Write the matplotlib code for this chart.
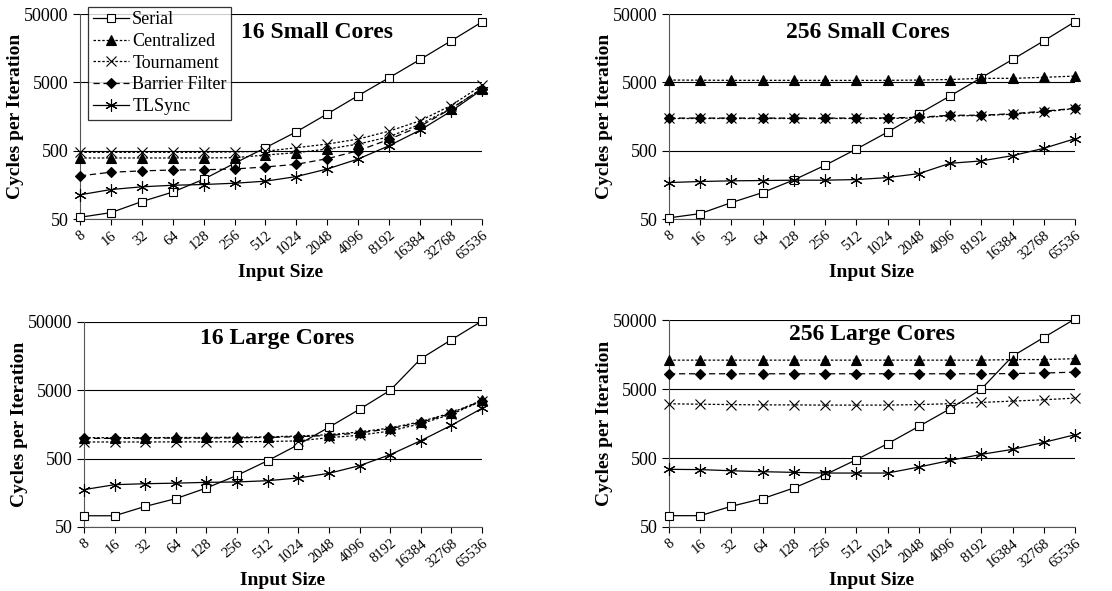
import matplotlib.pyplot as plt
from matplotlib.ticker import FixedLocator, NullLocator

plt.rcParams['font.family'] = ['Liberation Serif', 'DejaVu Serif']

input_sizes = ['8', '16', '32', '64', '128', '256', '512', '1024', '2048',
               '4096', '8192', '16384', '32768', '65536']
series_names = ['Serial', 'Centralized', 'Tournament', 'Barrier Filter', 'TLSync']
panel_titles = ['16 Small Cores', '256 Small Cores', '16 Large Cores', '256 Large Cores']

# 16 small cores
small16_serial = [53, 62, 90, 124, 191, 327, 553, 946, 1730, 3200, 5850, 10800, 20200, 38200]
small16_central = [391, 391, 391, 391, 391, 395, 432, 468, 528, 625, 800, 1220, 2070, 4000]
small16_tourn = [473, 473, 473, 473, 473, 480, 490, 553, 625, 740, 966, 1370, 2290, 4520]
small16_barrier = [214, 242, 253, 261, 263, 270, 289, 316, 382, 500, 732, 1140, 2050, 4050]
small16_tlsync = [113, 135, 148, 156, 160, 167, 179, 209, 270, 378, 592, 1000, 1890, 3900]

# 256 small cores
small256_serial = [52, 60, 87, 122, 187, 306, 528, 935, 1730, 3160, 5850, 10800, 20200, 38600]
small256_central = [5400, 5380, 5350, 5350, 5350, 5340, 5340, 5350, 5400, 5500, 5720, 5720, 5920, 6180]
small256_tourn = [1480, 1480, 1480, 1480, 1480, 1480, 1480, 1480, 1510, 1620, 1630, 1710, 1850, 2070]
small256_barrier = [1500, 1500, 1500, 1500, 1500, 1500, 1500, 1510, 1540, 1650, 1650, 1740, 1890, 2090]
small256_tlsync = [171, 177, 181, 183, 185, 185, 189, 202, 231, 327, 354, 423, 541, 748]

# 16 large cores
large16_serial = [73, 73, 100, 130, 186, 285, 467, 802, 1440, 2640, 5000, 14500, 27500, 51700]
large16_central = [1014, 1014, 1014, 1020, 1020, 1030, 1040, 1073, 1120, 1230, 1405, 1740, 2350, 3570]
large16_tourn = [877, 877, 877, 880, 880, 885, 890, 910, 1014, 1100, 1270, 1625, 2230, 3500]
large16_barrier = [990, 990, 1000, 1000, 1000, 1010, 1020, 1050, 1090, 1190, 1370, 1700, 2300, 3530]
large16_tlsync = [176, 208, 215, 219, 225, 228, 238, 261, 305, 395, 572, 917, 1540, 2730]

# 256 large cores
large256_serial = [73, 73, 100, 129, 184, 287, 473, 807, 1440, 2590, 5000, 15000, 28000, 52000]
large256_central = [13150, 13150, 13150, 13150, 13150, 13150, 13150, 13150, 13150, 13150, 13150, 13400, 13400, 13800]
large256_tourn = [3060, 3020, 2980, 2950, 2950, 2930, 2930, 2930, 2980, 3070, 3200, 3350, 3500, 3700]
large256_barrier = [8340, 8340, 8340, 8340, 8340, 8340, 8340, 8340, 8340, 8340, 8340, 8400, 8550, 8810]
large256_tlsync = [343, 340, 327, 317, 310, 303, 303, 303, 370, 462, 565, 668, 843, 1089]

panels = [
    [small16_serial, small16_central, small16_tourn, small16_barrier, small16_tlsync],
    [small256_serial, small256_central, small256_tourn, small256_barrier, small256_tlsync],
    [large16_serial, large16_central, large16_tourn, large16_barrier, large16_tlsync],
    [large256_serial, large256_central, large256_tourn, large256_barrier, large256_tlsync],
]

styles = [
    dict(ls='-', marker='s', mfc='white', ms=6),
    dict(ls=(0, (2, 1.5)), marker='^', mfc='black', ms=7),
    dict(ls=(0, (2, 1.5)), marker='x', mfc='black', ms=7),
    dict(ls=(0, (5, 3)), marker='D', mfc='black', ms=5.5),
    dict(ls='-', marker=(6, 2, 0), mfc='black', ms=9),
]

fig = plt.figure(figsize=(11.12, 5.91), dpi=100)
rects = [
    [0.0719, 0.6294, 0.3615, 0.3469],
    [0.6016, 0.6294, 0.3651, 0.3469],
    [0.0755, 0.1083, 0.3580, 0.3469],
    [0.6016, 0.1083, 0.3651, 0.3500],
]
title_pos = [(0.59, 0.91), (0.49, 0.91), (0.485, 0.917), (0.50, 0.93)]

x = list(range(len(input_sizes)))
for i, ax_rect in enumerate(rects):
    ax = fig.add_axes(ax_rect)
    for name, vals, st in zip(series_names, panels[i], styles):
        ax.plot(x, vals, color='black', lw=0.9, mec='black', mew=0.8,
                label=name, clip_on=False, zorder=3, **st)
    ax.set_yscale('log')
    ax.set_ylim(50, 50000)
    ax.set_xlim(0, 13)
    ax.yaxis.set_major_locator(FixedLocator([50, 500, 5000, 50000]))
    ax.yaxis.set_minor_locator(NullLocator())
    ax.set_yticklabels(['50', '500', '5000', '50000'], fontsize=13)
    ax.set_xticks(x)
    ax.set_xticklabels(input_sizes, rotation=40, ha='right', rotation_mode='anchor',
                       fontsize=10.5)
    ax.tick_params(axis='x', direction='out', length=4, pad=3)
    ax.tick_params(axis='y', direction='out', length=5, pad=3)
    ax.grid(axis='y', color='black', lw=0.8)
    ax.set_axisbelow(True)
    for s in ['top', 'right']:
        ax.spines[s].set_visible(False)
    ax.spines['left'].set_color('#555555')
    ax.spines['bottom'].set_color('#555555')
    ax.set_ylabel('Cycles per Iteration', fontsize=14, fontweight='bold', labelpad=0)
    ax.set_xlabel('Input Size', fontsize=14, fontweight='bold', labelpad=1)
    ax.text(title_pos[i][0], title_pos[i][1], panel_titles[i], transform=ax.transAxes,
            ha='center', va='center', fontsize=17, fontweight='bold')
    if i == 0:
        leg = ax.legend(loc='upper left', bbox_to_anchor=(0.02, 1.035), fontsize=13,
                        frameon=True, fancybox=False, edgecolor='black',
                        handlelength=2.0, handletextpad=0.2, borderpad=0.25,
                        labelspacing=0.26, borderaxespad=0)
        leg.get_frame().set_linewidth(0.9)
        leg.set_zorder(5)

fig.savefig('out.png', dpi=100)
